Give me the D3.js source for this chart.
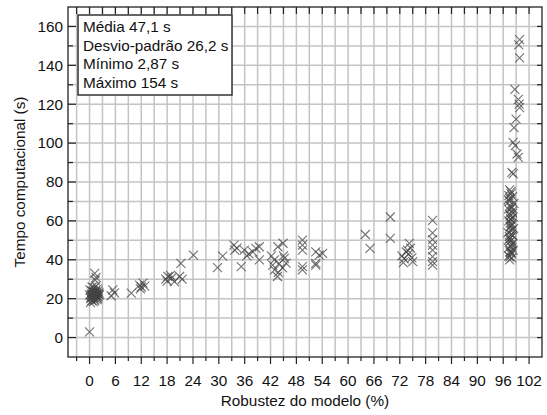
<!DOCTYPE html>
<html><head><meta charset="utf-8">
<script src="https://cdn.jsdelivr.net/npm/d3@7"></script>
<style>body{margin:0;background:#fff;}svg{display:block;font-family:"Liberation Sans",Arial,sans-serif;}</style>
</head><body>
<svg id="c" width="547" height="415"></svg>
<script>
// Robustez do modelo (%)
const robustez = [
 0, 1.2, 1.3, 1.5,
 0, 0.3, 0.5, 0.8, 1, 1.2, 1.5, 1.8, 2, 2.2, 0.2, 0.6, 1, 1.4, 1.7, 2, 0.4, 0.9, 1.3, 1.6, 1.9, 0.1, 0.7, 1.1, 2.3, 0.5, 1.5, 0.8, 1.2, 1.7,
 0.6, 1.0, 1.4, 0.3, 1.8, 0.9, 1.1, 0.4, 1.6, 2.1,
 5.4, 5, 5.8, 9.7,
 11.6, 12.4, 12, 12.8, 11.8,
 17.7, 18.2, 18.8, 19.7, 20.9, 19, 18, 21.5, 21.2, 24.1,
 30.9, 29.7,
 33.5, 33.7, 34.2, 35.2, 35.9, 36.5,
 37.9, 38.6, 39.4, 39.4, 37,
 43.7, 44.9, 42.9, 42.5, 42.9, 43.6, 43.8, 45.2, 45.6, 44.8, 44, 45, 42.2,
 49.4, 49.4, 49.4, 49.4, 49.4,
 52.5, 52.5, 53.3, 54.1, 52.5,
 64, 65.1, 69.8, 69.8,
 74.2, 73.8, 72.5, 73, 74, 74.8, 75, 73.5, 74.5, 72.8,
 79.6, 79.6, 79.6, 79.6, 79.6, 79.6, 79.6, 79.6,
 99.8, 99.6, 99.8, 98.7, 99.5, 99.7, 99.8, 99, 98.5, 98.3, 98.8, 99.5, 99.2, 98.3, 98,
 97.5, 97.8, 98.2, 97.2, 98.5, 97.6, 97.9, 98.1, 97.4, 98.3, 97.7, 97.3, 98.0, 97.6, 98.4, 97.8, 97.1, 98.2, 97.5, 97.9,
 97.4, 98.1, 97.7, 97.2, 98.3, 97.6, 97.9, 97.3, 98.0, 97.5, 97.8, 97.4, 98.2, 97.6, 97.9,
 97.3, 98.0, 97.6, 97.9, 97.4, 98.2, 97.7, 97.5, 98.1, 97.8, 97.2, 97.6, 98.0, 97.4, 97.9
];
// Tempo computacional (s)
const tempo = [
 2.87, 33, 29.6, 31,
 22, 20, 24, 21, 23, 19, 22, 25, 21, 23, 18, 26, 20.5, 24, 19.5, 24, 22.5, 18.5, 21.5, 23, 20, 24.5, 23.5, 25.5, 22, 19, 26.5, 21.8, 22.8, 21,
 21, 22, 23.5, 20.5, 22.5, 24, 19.8, 21.5, 20.8, 22.2,
 24.5, 21.5, 23, 22.8,
 27, 28, 26, 26.5, 25,
 30, 31.4, 32, 28.8, 31.4, 30.5, 29, 30, 38.2, 42.4,
 41.9, 36,
 47.5, 45, 46, 36.5, 45, 42,
 44.1, 45.9, 46.7, 39.9, 43,
 46.7, 48.5, 39.9, 37.3, 34.8, 31.4, 33.5, 40.7, 38.3, 35.8, 38, 42, 42,
 50.1, 47.5, 45, 36.5, 34.8,
 44.1, 38.2, 42.4, 43.3, 37.3,
 53, 45.9, 62, 51,
 48.4, 45, 42, 40.5, 43, 41, 39, 44, 46, 38.5,
 60.3, 53.8, 50.4, 47.5, 45, 41.6, 37.3, 39,
 153.2, 150.5, 143.8, 127.6, 122.5, 120, 118.3, 112.3, 108, 100.4, 98.7, 92.7, 94.4, 84.2, 85,
 76, 74, 72.5, 71, 69, 68, 66.5, 65, 63.5, 62, 61, 60, 58.5, 57, 56, 55, 54, 52.5, 51, 50,
 49, 48, 47, 46, 45, 44, 43, 42, 41, 40, 75, 70, 64, 59, 53,
 73, 67, 62.5, 57.5, 52, 48.5, 44.5, 41.5, 55.5, 60.5, 66, 71.5, 46.5, 50.5, 43.5
];
const xTicks = [0, 6, 12, 18, 24, 30, 36, 42, 48, 54, 60, 66, 72, 78, 84, 90, 96, 102];
const yTicks = [0, 20, 40, 60, 80, 100, 120, 140, 160];
const legendLines = ["Média 47,1 s", "Desvio-padrão 26,2 s", "Mínimo 2,87 s", "Máximo 154 s"];

const svg = d3.select("#c");
const L = 68, R = 542, T = 7, B = 357;
const x = d3.scaleLinear().domain([-5, 105]).range([L, R]);
const y = d3.scaleLinear().domain([-10, 170]).range([B, T]);

const xGrid = d3.range(-3, 105, 3);
const yGrid = d3.range(0, 170, 10);
const g = svg.append("g");
g.selectAll(".vg").data(xGrid).join("line")
  .attr("x1", d => x(d)).attr("x2", d => x(d)).attr("y1", T).attr("y2", B)
  .attr("stroke", "#c4c4c4").attr("stroke-width", 1.5);
g.selectAll(".hg").data(yGrid).join("line")
  .attr("y1", d => y(d)).attr("y2", d => y(d)).attr("x1", L).attr("x2", R)
  .attr("stroke", "#c4c4c4").attr("stroke-width", 1.5);

// ticks
const tk = svg.append("g").attr("stroke", "#222").attr("stroke-width", 1.2);
xGrid.forEach(d => {
  const major = xTicks.includes(d);
  tk.append("line").attr("x1", x(d)).attr("x2", x(d)).attr("y1", B).attr("y2", B + (major ? 7 : 4));
  tk.append("line").attr("x1", x(d)).attr("x2", x(d)).attr("y1", T).attr("y2", T + 7);
});
yGrid.forEach(d => {
  const major = yTicks.includes(d);
  tk.append("line").attr("y1", y(d)).attr("y2", y(d)).attr("x1", L).attr("x2", L + (major ? 8 : 5));
  tk.append("line").attr("y1", y(d)).attr("y2", y(d)).attr("x1", R).attr("x2", R - 5);
});

// points
const r = 4.5;
svg.append("g").selectAll("path").data(robustez.map((v, i) => [v, tempo[i]])).join("path")
  .attr("transform", d => `translate(${x(d[0])},${y(d[1])})`)
  .attr("d", `M${-r},${-r}L${r},${r}M${-r},${r}L${r},${-r}`)
  .attr("stroke", "#444").attr("stroke-opacity", 0.75).attr("stroke-width", 1.1).attr("fill", "none");

// frame
svg.append("rect").attr("x", L).attr("y", T).attr("width", R - L).attr("height", B - T)
  .attr("fill", "none").attr("stroke", "#222").attr("stroke-width", 1.3);

// tick labels
svg.append("g").selectAll("text").data(xTicks).join("text")
  .attr("x", d => x(d)).attr("y", 386).attr("text-anchor", "middle")
  .attr("font-size", 15.3).attr("fill", "#111").text(d => d);
svg.append("g").selectAll("text").data(yTicks).join("text")
  .attr("x", 63).attr("y", d => y(d) + 5.3).attr("text-anchor", "end")
  .attr("font-size", 15.3).attr("fill", "#111").text(d => d);

// axis titles
svg.append("text").attr("x", (L + R) / 2).attr("y", 406).attr("text-anchor", "middle")
  .attr("font-size", 15.3).attr("fill", "#111").text("Robustez do modelo (%)");
svg.append("text").attr("transform", `translate(25,${(T + B) / 2}) rotate(-90)`).attr("text-anchor", "middle")
  .attr("font-size", 15.3).attr("fill", "#111").text("Tempo computacional (s)");

// legend
svg.append("rect").attr("x", 78).attr("y", 15).attr("width", 154).attr("height", 80)
  .attr("fill", "#fff").attr("stroke", "#333").attr("stroke-width", 1.5);
svg.append("g").selectAll("text").data(legendLines).join("text")
  .attr("x", 83).attr("y", (d, i) => 32 + i * 18.6)
  .attr("font-size", 15.3).attr("fill", "#111").text(d => d);
</script>
</body></html>
